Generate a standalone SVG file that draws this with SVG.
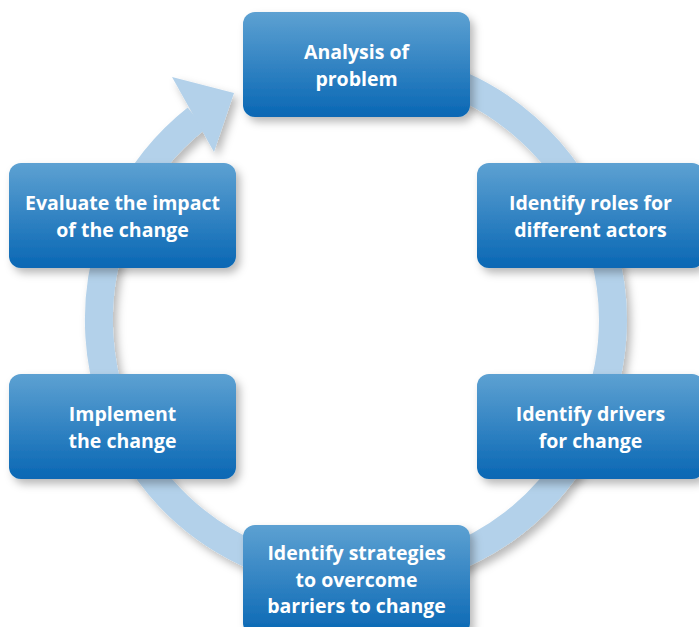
<svg xmlns="http://www.w3.org/2000/svg" width="699" height="627" viewBox="0 0 699 627">
  <defs>
    <linearGradient id="boxGrad" x1="0" y1="0" x2="0" y2="1">
      <stop offset="0" stop-color="#5da1d2"/>
      <stop offset="1" stop-color="#0967b4"/>
    </linearGradient>
    <filter id="shadow" x="-20%" y="-20%" width="140%" height="140%">
      <feDropShadow dx="4" dy="5" stdDeviation="4" flood-color="#000" flood-opacity="0.28"/>
    </filter>
  </defs>
  <style>
    .box { fill: url(#boxGrad); filter: url(#shadow); }
    .lbl { font-family: "Open Sans", "Liberation Sans", sans-serif; font-weight: 700; font-size: 19.5px; fill: #ffffff; text-anchor: middle; }
    .ring { fill: none; stroke: #b3d1ea; stroke-width: 28; }
    .head { fill: #b3d1ea; }
  </style>
  <rect width="699" height="627" fill="#ffffff"/>
  <g id="connectors" filter="url(#shadow)">
    <path class="ring" d="M 311.4 66.9 A 257 257 0 1 1 196.4 118.5"/>
    <polygon class="head" points="172,77 234,93 214,152"/>
  </g>
  <g id="node-analysis">
    <rect class="box" x="243" y="12" width="227" height="105" rx="12"/>
    <text class="lbl" x="356.5" y="59">Analysis of</text>
    <text class="lbl" x="356.5" y="86">problem</text>
  </g>
  <g id="node-roles">
    <rect class="box" x="477" y="163" width="227" height="105" rx="12"/>
    <text class="lbl" x="590.5" y="210">Identify roles for</text>
    <text class="lbl" x="590.5" y="237">different actors</text>
  </g>
  <g id="node-drivers">
    <rect class="box" x="477" y="374" width="227" height="105" rx="12"/>
    <text class="lbl" x="590.5" y="421">Identify drivers</text>
    <text class="lbl" x="590.5" y="448">for change</text>
  </g>
  <g id="node-strategies">
    <rect class="box" x="243" y="525" width="227" height="110" rx="12"/>
    <text class="lbl" x="356.5" y="560">Identify strategies</text>
    <text class="lbl" x="356.5" y="587">to overcome</text>
    <text class="lbl" x="356.5" y="613">barriers to change</text>
  </g>
  <g id="node-implement">
    <rect class="box" x="9" y="374" width="227" height="105" rx="12"/>
    <text class="lbl" x="122.5" y="421">Implement</text>
    <text class="lbl" x="122.5" y="448">the change</text>
  </g>
  <g id="node-evaluate">
    <rect class="box" x="9" y="163" width="227" height="105" rx="12"/>
    <text class="lbl" x="122.5" y="210">Evaluate the impact</text>
    <text class="lbl" x="122.5" y="237">of the change</text>
  </g>
</svg>
